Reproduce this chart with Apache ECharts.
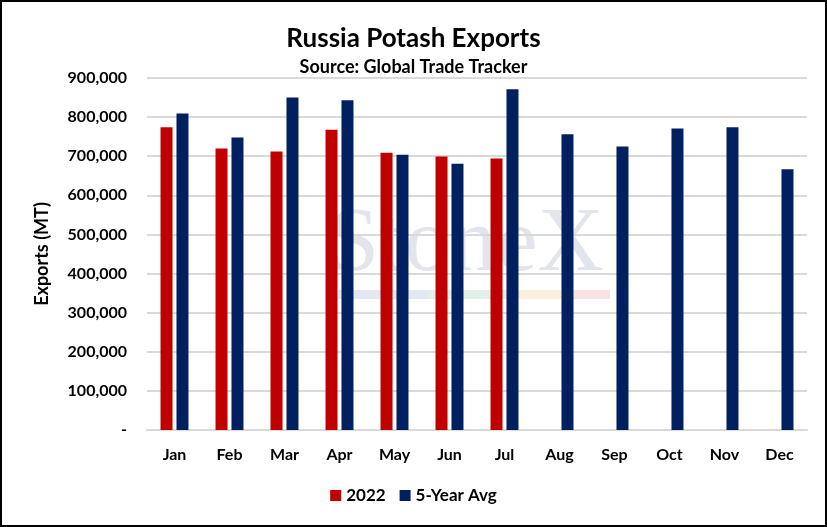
<!DOCTYPE html>
<html lang="en">

<head>
    <meta charset="UTF-8">
    <title>Russia Potash Exports</title>
    <script src="https://cdn.jsdelivr.net/npm/echarts@6.0.0/dist/echarts.min.js"></script>
    <style>
        html, body { margin: 0; padding: 0; background: #fff; }
        #chart { width: 827px; height: 527px; box-sizing: border-box; border: 2px solid #000; }
    </style>
</head>

<body>
    <div id="chart"></div>
    <script>
        const months = ['Jan', 'Feb', 'Mar', 'Apr', 'May', 'Jun', 'Jul', 'Aug', 'Sep', 'Oct', 'Nov', 'Dec'];
        const exports2022 = [774000, 720000, 712000, 768000, 709000, 699000, 694000, null, null, null, null, null];
        const fiveYearAvg = [809000, 748000, 850000, 843000, 704000, 681000, 871000, 756000, 725000, 771000, 774000, 667000];

        const font = 'Lato, "Open Sans", sans-serif';
        const chart = echarts.init(document.getElementById('chart'));
        chart.setOption({
            animation: false,
            title: [{
                text: 'Russia Potash Exports',
                left: 'center',
                top: 19,
                textStyle: { fontFamily: font, fontSize: 26, fontWeight: 'bold', color: '#000' }
            }, {
                text: 'Source: Global Trade Tracker',
                left: 'center',
                top: 51,
                textStyle: { fontFamily: font, fontSize: 18, fontWeight: 'bold', color: '#000' }
            }],
            graphic: [{
                type: 'text',
                left: 326,
                top: 198,
                z: 0,
                style: { text: 'StoneX', fontFamily: '"Liberation Serif", serif', fontSize: 92, fill: 'rgba(190,198,212,0.45)' }
            }, {
                type: 'group',
                left: 336,
                top: 288,
                z: 0,
                children: [
                    { type: 'rect', shape: { x: 0, y: 0, width: 90, height: 9 }, style: { fill: 'rgba(200,210,230,0.5)' } },
                    { type: 'rect', shape: { x: 90, y: 0, width: 90, height: 9 }, style: { fill: 'rgba(200,225,210,0.5)' } },
                    { type: 'rect', shape: { x: 180, y: 0, width: 45, height: 9 }, style: { fill: 'rgba(245,225,190,0.5)' } },
                    { type: 'rect', shape: { x: 225, y: 0, width: 47, height: 9 }, style: { fill: 'rgba(240,200,200,0.5)' } }
                ]
            }],
            legend: {
                bottom: 16,
                left: 'center',
                itemWidth: 11,
                itemHeight: 11,
                itemGap: 14,
                icon: 'rect',
                textStyle: { fontFamily: font, fontSize: 17, fontWeight: 'bold', color: '#000' },
                data: ['2022', '5-Year Avg']
            },
            grid: { left: 145, right: 18, top: 76, bottom: 95, containLabel: false },
            xAxis: {
                type: 'category',
                data: months,
                axisLine: { show: true, lineStyle: { color: '#D9D9D9', width: 2 } },
                axisTick: { show: false },
                axisLabel: { fontFamily: font, fontSize: 16, fontWeight: 'bold', color: '#000', margin: 17 }
            },
            yAxis: {
                type: 'value',
                min: 0,
                max: 900000,
                interval: 100000,
                name: 'Exports (MT)',
                nameLocation: 'middle',
                nameGap: 96,
                nameTextStyle: { fontFamily: font, fontSize: 18, fontWeight: 'bold', color: '#000' },
                axisLine: { show: false },
                axisTick: { show: false },
                splitLine: { lineStyle: { color: '#D9D9D9', width: 2 } },
                axisLabel: {
                    fontFamily: font, fontSize: 16, fontWeight: 'bold', color: '#000', margin: 20,
                    formatter: v => v === 0 ? '-' : v.toLocaleString('en-US')
                }
            },
            series: [{
                name: '2022',
                type: 'bar',
                data: exports2022,
                barWidth: 12,
                barGap: '33%',
                itemStyle: { color: '#C00000' },
                z: 3
            }, {
                name: '5-Year Avg',
                type: 'bar',
                data: fiveYearAvg,
                barWidth: 12,
                itemStyle: { color: '#002060' },
                z: 3
            }]
        });
    </script>
</body>

</html>
